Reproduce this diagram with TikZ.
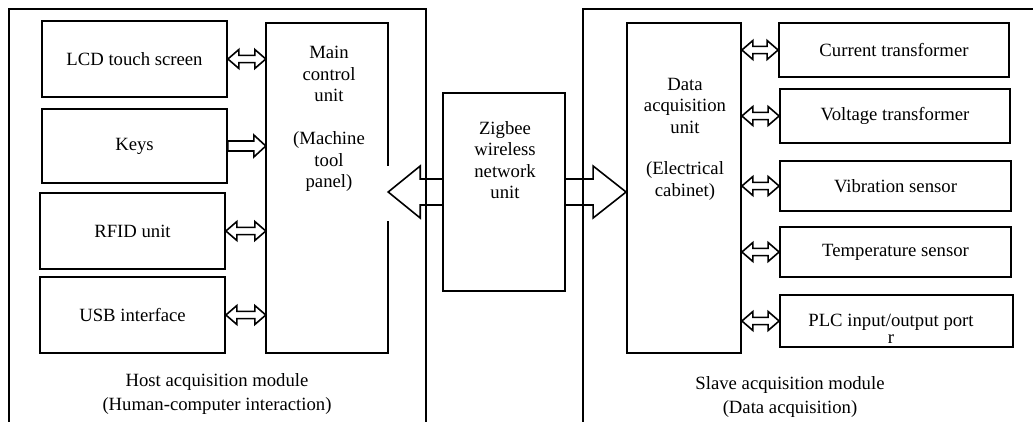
\documentclass[tikz,border=0pt]{standalone}
\usepackage{fontspec}
\setmainfont{Liberation Serif}
\usetikzlibrary{calc}

\tikzset{
  unit/.style={draw, line width=1.8pt, inner sep=0pt},
  lbl/.style={font=\fontsize{18.7}{21.5}\selectfont, align=center, inner sep=0pt},
  frame/.style={line width=1.8pt},
  conn/.style={line width=1.6pt, line join=miter},
}

% hollow two-headed arrow, drawn at the height of its first end point
\newcommand\twoway[2]{%
  \draw[conn] let \p1=#1, \p2=#2 in
    (\x1,\y1) -- (\x1+11pt,\y1+9.5pt) -- (\x1+11pt,\y1+3.6pt)
    -- (\x2-11pt,\y1+3.6pt) -- (\x2-11pt,\y1+9.5pt) -- (\x2,\y1)
    -- (\x2-11pt,\y1-9.5pt) -- (\x2-11pt,\y1-3.6pt)
    -- (\x1+11pt,\y1-3.6pt) -- (\x1+11pt,\y1-9.5pt) -- cycle;}

% hollow one-headed arrow pointing right
\newcommand\oneway[2]{%
  \draw[conn] let \p1=#1, \p2=#2 in
    (\x1,\y1+5pt) -- (\x2-12pt,\y1+5pt) -- (\x2-12pt,\y1+11pt) -- (\x2,\y1)
    -- (\x2-12pt,\y1-11pt) -- (\x2-12pt,\y1-5pt) -- (\x1,\y1-5pt) -- cycle;}

\begin{document}
\begin{tikzpicture}[x=1pt,y=-1pt]
\useasboundingbox (0,0) rectangle (1033,422);

% module frames
\draw[frame] (9,422) -- (9,9) -- (426,9) -- (426,422);
\draw[frame] (583,422) -- (583,9) -- (1033,9);

% host acquisition module
\node[unit, lbl, minimum width=185pt, minimum height=76pt] (lcd)  at (134.5,59)  {LCD touch screen};
\node[unit, lbl, minimum width=185pt, minimum height=74pt] (keys) at (134.5,146) {Keys};
\node[unit, lbl, minimum width=185pt, minimum height=76pt] (rfid) at (132.5,231) {RFID unit};
\node[unit, lbl, minimum width=185pt, minimum height=76pt] (usb)  at (132.5,315) {USB interface};

\node[inner sep=0pt, minimum width=122pt, minimum height=330pt] (main) at (327,188) {};
\node[lbl] (mainT) at (329,119) {Main\\control\\unit\\[21.5pt](Machine\\tool\\panel)};

\node[lbl] (host) at (217,394) {Host acquisition module\\[2.5pt](Human-computer interaction)};

% wireless link
\node[unit, minimum width=122pt, minimum height=198pt] (zig) at (504,192) {};
\node[lbl] (zigT) at (505,160) {Zigbee\\wireless\\network\\unit};

% slave acquisition module
\node[unit, minimum width=114pt, minimum height=330pt] (daq) at (684,188) {};
\node[lbl] (daqT) at (685,139) {Data\\acquisition\\unit\\[20pt](Electrical\\cabinet)};

\node[unit, lbl, minimum width=230pt, minimum height=54pt] (cur) at (894,50)    {Current transformer};
\node[unit, lbl, minimum width=230pt, minimum height=54pt] (vol) at (895,116)   {Voltage transformer};
\node[unit, lbl, minimum width=231pt, minimum height=50pt] (vib) at (895.5,186) {Vibration sensor};
\node[unit, lbl, minimum width=231pt, minimum height=50pt] (tmp) at (895.5,252) {Temperature sensor};
\node[unit, minimum width=233pt, minimum height=52pt] (plc) at (896.5,321) {};
\node[lbl] (plcT) at (891,329) {PLC input/output port\\[-5pt]r};

\node[lbl] (slave) at (790,397) {Slave acquisition module\\[2.5pt](Data acquisition)};

% main control unit outline, open where the link arrow enters
\draw[frame] ($(main.east |- zig.west)+(0,-26)$) -- (main.north east) -- (main.north west)
  -- (main.south west) -- (main.south east) -- ($(main.east |- zig.west)+(0,29)$);

% host side connectors
\twoway{(lcd.east)}{(main.west |- lcd.east)}
\oneway{(keys.east)}{(main.west |- keys.east)}
\twoway{(rfid.east)}{(main.west |- rfid.east)}
\twoway{(usb.east)}{(main.west |- usb.east)}

% link arrows
\draw[conn] let \p1=(zig.west), \p2=(main.east) in
  (\x1,\y1+13pt) -- (\x2+32pt,\y1+13pt) -- (\x2+32pt,\y1+26pt) -- (\x2,\y1)
  -- (\x2+32pt,\y1-26pt) -- (\x2+32pt,\y1-13pt) -- (\x1,\y1-13pt);
\draw[conn] let \p1=(zig.east), \p2=(daq.west) in
  (\x1,\y1+13pt) -- (\x2-33pt,\y1+13pt) -- (\x2-33pt,\y1+26pt) -- (\x2,\y1)
  -- (\x2-33pt,\y1-26pt) -- (\x2-33pt,\y1-13pt) -- (\x1,\y1-13pt);

% slave side connectors
\twoway{(daq.east |- cur.west)}{(cur.west)}
\twoway{(daq.east |- vol.west)}{(vol.west)}
\twoway{(daq.east |- vib.west)}{(vib.west)}
\twoway{(daq.east |- tmp.west)}{(tmp.west)}
\twoway{(daq.east |- plc.west)}{(plc.west)}
\end{tikzpicture}
\end{document}
